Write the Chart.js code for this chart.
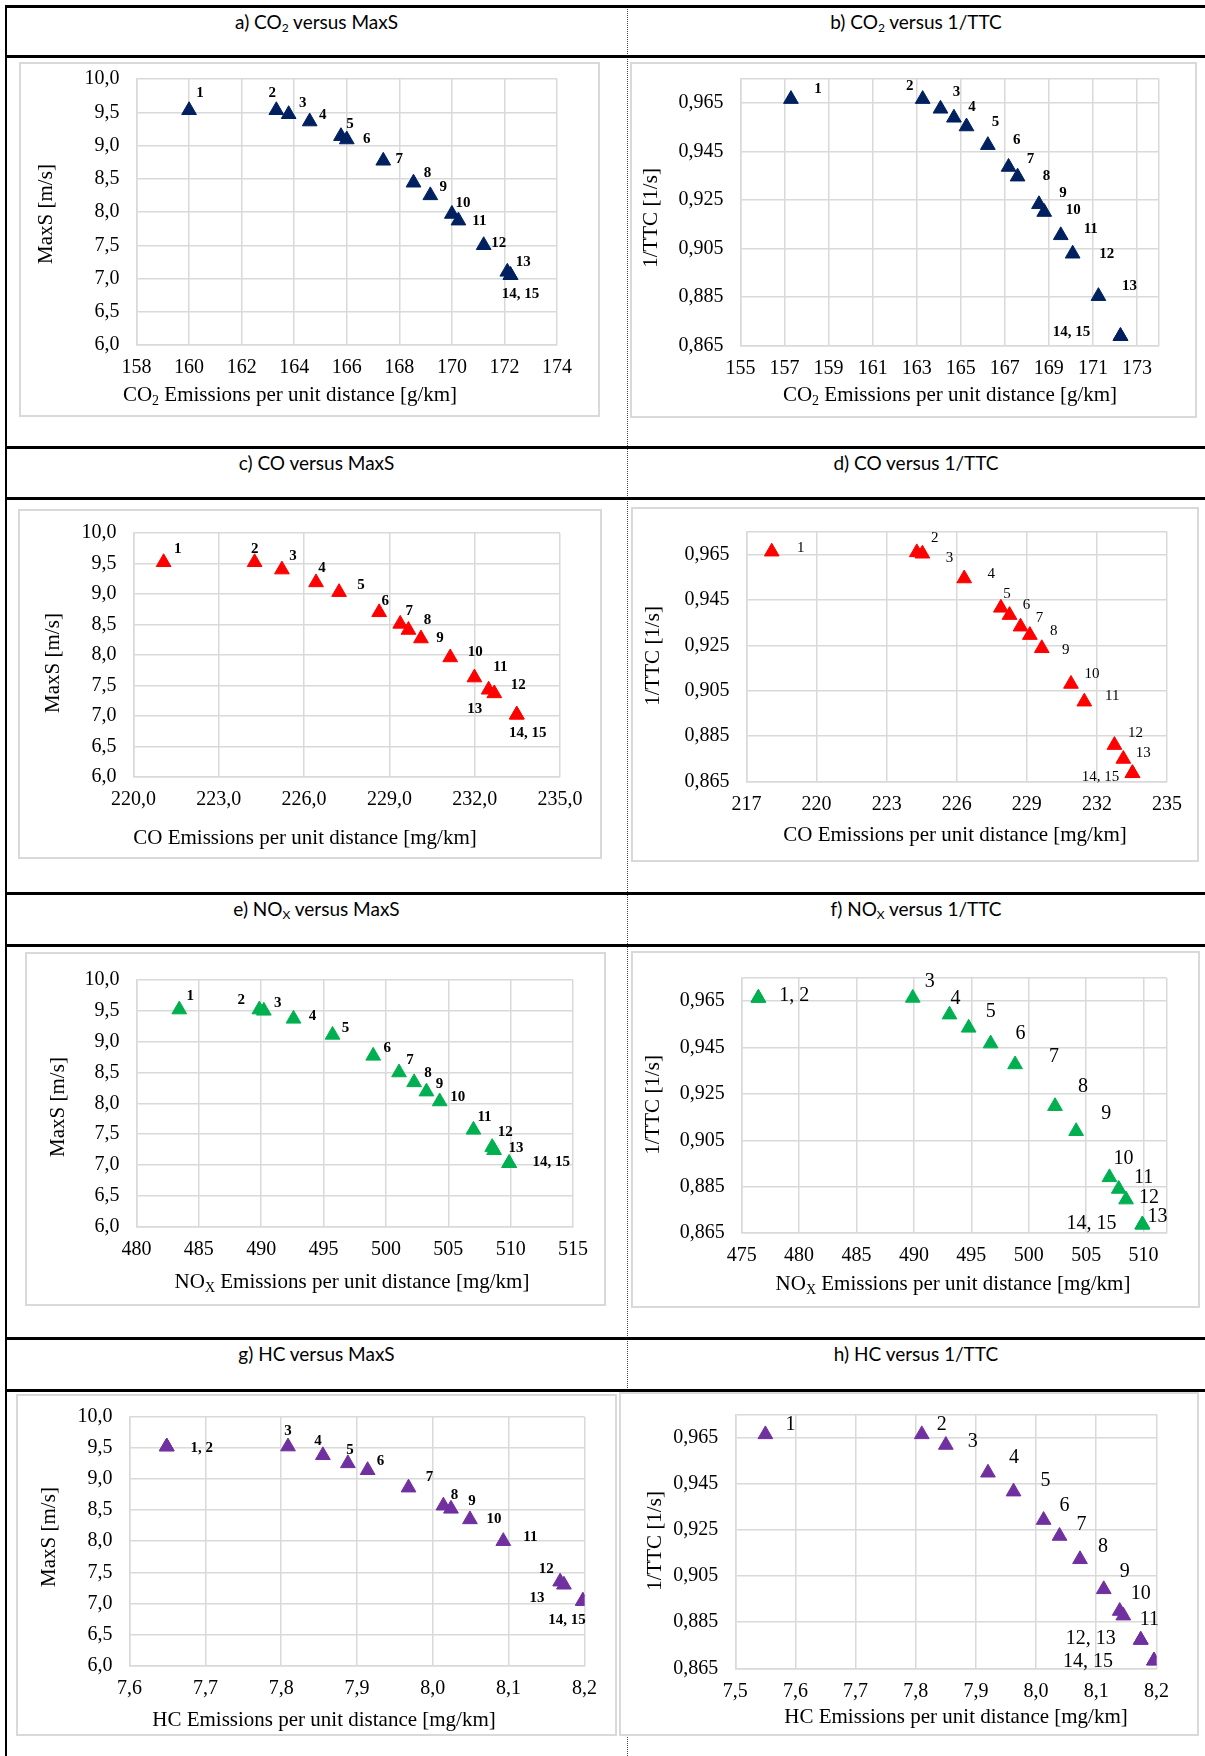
<!DOCTYPE html>
<html>
<head>
<meta charset="utf-8">
<script src="https://cdn.jsdelivr.net/npm/chart.js@4.4.0/dist/chart.umd.min.js"></script>
<style>
  body { margin: 0; background: #fff; }
  #page { position: relative; width: 1205px; height: 1756px; overflow: hidden; background: #fff; }
  .hline { position: absolute; left: 6px; right: 0; height: 3px; background: #000; }
  .vline { position: absolute; left: 5px; top: 5px; width: 2px; bottom: 0; background: #000; }
  .divider { position: absolute; left: 627px; top: 6px; bottom: 0; border-left: 1px dotted #444; }
  .hdr { position: absolute; height: 24px; line-height: 24px; text-align: center;
         font-family: Lato, "Open Sans", sans-serif; font-size: 19px; color: #000; }
  .hdr sub { font-size: 12px; vertical-align: -3px; line-height: 0; }
  canvas { position: absolute; background: #fff; }
  .frame { position: absolute; box-sizing: border-box; border: 2px solid #d9d9d9; pointer-events: none; }
</style>
</head>
<body>
<div id="page">
  <div class="divider"></div>
  <div class="vline"></div>
  <div class="hline" style="top:5px"></div>
  <div class="hline" style="top:55px"></div>
  <div class="hline" style="top:446px"></div>
  <div class="hline" style="top:497px"></div>
  <div class="hline" style="top:892px"></div>
  <div class="hline" style="top:944px"></div>
  <div class="hline" style="top:1337px"></div>
  <div class="hline" style="top:1389px"></div>

  <div class="hdr" style="left:6px;width:621px;top:10px">a) CO<sub>2</sub> versus MaxS</div>
  <div class="hdr" style="left:627px;width:578px;top:10px">b) CO<sub>2</sub> versus 1/TTC</div>
  <div class="hdr" style="left:6px;width:621px;top:451px">c) CO versus MaxS</div>
  <div class="hdr" style="left:627px;width:578px;top:451px">d) CO versus 1/TTC</div>
  <div class="hdr" style="left:6px;width:621px;top:897px">e) NO<sub>X</sub> versus MaxS</div>
  <div class="hdr" style="left:627px;width:578px;top:897px">f) NO<sub>X</sub> versus 1/TTC</div>
  <div class="hdr" style="left:6px;width:621px;top:1342px">g) HC versus MaxS</div>
  <div class="hdr" style="left:627px;width:578px;top:1342px">h) HC versus 1/TTC</div>
</div>

<script>
// ---- data: one pair of arrays per panel, points 1..15 in order ----
var aCO2  = [160.0, 163.32, 163.79, 164.59, 165.78, 166.0, 167.39, 168.54, 169.18, 170.0, 170.25, 171.21, 172.11, 172.23, 172.23];
var aMaxS = [9.53, 9.53, 9.47, 9.36, 9.14, 9.09, 8.77, 8.44, 8.25, 7.97, 7.87, 7.50, 7.10, 7.05, 7.05];

var bCO2  = [157.29, 163.27, 164.08, 164.69, 165.26, 166.23, 167.17, 167.58, 168.55, 168.79, 169.54, 170.08, 171.25, 172.25, 172.25];
var bTTC  = [0.9667, 0.9667, 0.9627, 0.9590, 0.9554, 0.9477, 0.9387, 0.9347, 0.9233, 0.9201, 0.9105, 0.9029, 0.8854, 0.8689, 0.8689];

var cCO   = [221.06, 224.26, 225.22, 226.42, 227.23, 228.64, 229.38, 229.67, 230.11, 231.14, 231.99, 232.69, 232.49, 233.48, 233.48];
var cMaxS = [9.52, 9.52, 9.40, 9.19, 9.03, 8.70, 8.51, 8.41, 8.27, 7.96, 7.63, 7.37, 7.43, 7.02, 7.02];

var dCO   = [218.08, 224.29, 224.53, 226.32, 227.89, 228.26, 228.73, 229.13, 229.64, 230.89, 231.46, 232.75, 233.13, 233.52, 233.52];
var dTTC  = [0.9662, 0.9659, 0.9653, 0.9544, 0.9415, 0.9383, 0.9332, 0.9295, 0.9237, 0.9080, 0.9002, 0.8811, 0.8750, 0.8687, 0.8687];

var eNOx  = [483.43, 489.85, 490.21, 492.59, 495.72, 498.98, 501.05, 502.26, 503.25, 504.31, 507.02, 508.52, 508.67, 509.88, 509.88];
var eMaxS = [9.52, 9.52, 9.50, 9.37, 9.11, 8.77, 8.50, 8.34, 8.19, 8.03, 7.57, 7.29, 7.24, 7.03, 7.03];

var fNOx  = [476.45, 476.45, 489.9, 493.1, 494.77, 496.68, 498.81, 502.29, 504.13, 507.03, 507.84, 508.48, 509.9, 509.9, 509.9];
var fTTC  = [0.9664, 0.9664, 0.9664, 0.9592, 0.9535, 0.9467, 0.9377, 0.9197, 0.9089, 0.8890, 0.8840, 0.8794, 0.8686, 0.8686, 0.8686];

var gHC   = [7.649, 7.649, 7.809, 7.855, 7.888, 7.914, 7.968, 8.014, 8.024, 8.049, 8.093, 8.168, 8.173, 8.198, 8.198];
var gMaxS = [9.52, 9.52, 9.52, 9.38, 9.25, 9.14, 8.86, 8.57, 8.52, 8.35, 8.00, 7.35, 7.30, 7.04, 7.04];

var hHC   = [7.55, 7.81, 7.85, 7.92, 7.9625, 8.0125, 8.039, 8.073, 8.1125, 8.139, 8.145, 8.174, 8.174, 8.196, 8.196];
var hTTC  = [0.9663, 0.9663, 0.9617, 0.9497, 0.9415, 0.9292, 0.9223, 0.9122, 0.8992, 0.8898, 0.8878, 0.8773, 0.8773, 0.8683, 0.8683];

// point labels (empty where a label is shared with the previous point)
var labels15  = ['1','2','3','4','5','6','7','8','9','10','11','12','13','14, 15',''];
var fLabels   = ['1, 2','','3','4','5','6','7','8','9','10','11','12','13','14, 15',''];
var gLabels   = ['1, 2','','3','4','5','6','7','8','9','10','11','12','13','14, 15',''];
var hLabels   = ['1','2','3','4','5','6','7','8','9','10','11','12, 13','','14, 15',''];

// tick labels
var ticksCO2a  = [158, 160, 162, 164, 166, 168, 170, 172, 174];
var ticksCO2b  = [155, 157, 159, 161, 163, 165, 167, 169, 171, 173];
var ticksCOc   = [220, 223, 226, 229, 232, 235];
var ticksCOd   = [217, 220, 223, 226, 229, 232, 235];
var ticksNOxE  = [480, 485, 490, 495, 500, 505, 510, 515];
var ticksNOxF  = [475, 480, 485, 490, 495, 500, 505, 510];
var ticksHCg   = [7.6, 7.7, 7.8, 7.9, 8.0, 8.1, 8.2];
var ticksHCh   = [7.5, 7.6, 7.7, 7.8, 7.9, 8.0, 8.1, 8.2];
var ticksMaxS  = [6.0, 6.5, 7.0, 7.5, 8.0, 8.5, 9.0, 9.5, 10.0];
var ticksTTC   = [0.865, 0.885, 0.905, 0.925, 0.945, 0.965];

// ---- drawing helpers ----
var SERIF = '"Liberation Serif", "Times New Roman", serif';

function fmt(v, dec) {
  return v.toFixed(dec).replace('.', ',');
}

function tickList(vals, max) {
  var t = vals.map(function (v) { return { value: v }; });
  if (vals[vals.length - 1] !== max) t.push({ value: max });
  return t;
}

// keep the plot area exactly where the layout padding puts it
function noScalePadding(s) {
  s.paddingTop = 0;
  s.paddingBottom = 0;
  s.paddingLeft = 0;
  s.paddingRight = 0;
}

// number labels next to each marker
var pointLabels = {
  id: 'pointLabels',
  afterDatasetsDraw: function (chart, args, opts) {
    var ctx = chart.ctx;
    var meta = chart.getDatasetMeta(0);
    ctx.save();
    ctx.font = opts.font;
    ctx.fillStyle = '#000';
    ctx.textAlign = 'center';
    ctx.textBaseline = 'middle';
    meta.data.forEach(function (pt, i) {
      var txt = opts.labels[i];
      if (!txt) return;
      var off = opts.offsets[i];
      ctx.fillText(txt, pt.x + off[0], pt.y + off[1]);
    });
    ctx.restore();
  }
};

// axis titles, x title may carry a subscript part
var axisTitles = {
  id: 'axisTitles',
  afterDraw: function (chart, args, opts) {
    var ctx = chart.ctx;
    ctx.save();
    ctx.fillStyle = '#000';
    ctx.textBaseline = 'middle';
    ctx.textAlign = 'center';
    ctx.font = '21px ' + SERIF;
    ctx.translate(opts.yPos[0], opts.yPos[1]);
    ctx.rotate(-Math.PI / 2);
    ctx.fillText(opts.yText, 0, 0);
    ctx.restore();

    ctx.save();
    ctx.fillStyle = '#000';
    ctx.textBaseline = 'middle';
    ctx.textAlign = 'left';
    var parts = opts.xParts;
    var widths = parts.map(function (p) {
      ctx.font = (p.sub ? '14px ' : '21px ') + SERIF;
      return ctx.measureText(p.t).width;
    });
    var total = widths.reduce(function (a, b) { return a + b; }, 0);
    var x = opts.xPos[0] - total / 2;
    parts.forEach(function (p, i) {
      ctx.font = (p.sub ? '14px ' : '21px ') + SERIF;
      ctx.fillText(p.t, x, opts.xPos[1] + (p.sub ? 6 : 0));
      x += widths[i];
    });
    ctx.restore();
  }
};

function makePanel(p) {
  var page = document.getElementById('page');
  var cv = document.createElement('canvas');
  var bx = p.box[0], by = p.box[1], bw = p.box[2], bh = p.box[3];
  cv.width = bw;
  cv.height = bh;
  cv.style.left = bx + 'px';
  cv.style.top = by + 'px';
  page.appendChild(cv);
  var fr = document.createElement('div');
  fr.className = 'frame';
  fr.style.left = bx + 'px';
  fr.style.top = by + 'px';
  fr.style.width = bw + 'px';
  fr.style.height = bh + 'px';
  page.appendChild(fr);

  var pts = p.x.map(function (v, i) { return { x: v, y: p.y[i] }; });
  var xMin = p.xTicks[0], yMin = p.yTicks[0];
  var tickFont = { family: SERIF, size: 20 };
  var gridStyle = { color: '#d9d9d9', lineWidth: 1.5, drawTicks: false };

  new Chart(cv.getContext('2d'), {
    type: 'scatter',
    data: {
      datasets: [{
        data: pts,
        pointStyle: 'triangle',
        pointRadius: 8.5,
        pointBackgroundColor: p.color,
        pointBorderColor: p.color,
        pointBorderWidth: 1
      }]
    },
    options: {
      responsive: false,
      devicePixelRatio: 1,
      animation: false,
      layout: {
        padding: { left: 0, top: p.plot[1] - by, right: bx + bw - p.plot[2], bottom: 0 }
      },
      scales: {
        x: {
          type: 'linear',
          min: xMin,
          max: p.xMax,
          afterBuildTicks: function (s) { s.ticks = tickList(p.xTicks, p.xMax); },
          afterFit: function (s) { s.height = by + bh - p.plot[3]; noScalePadding(s); },
          grid: gridStyle,
          border: { color: '#d9d9d9', width: 1.5 },
          ticks: {
            padding: 11, color: '#000', font: tickFont, maxRotation: 0, autoSkip: false,
            callback: function (v) { return p.xTicks.indexOf(v) >= 0 ? fmt(v, p.xDec) : ''; }
          }
        },
        y: {
          type: 'linear',
          min: yMin,
          max: p.yMax,
          afterBuildTicks: function (s) { s.ticks = tickList(p.yTicks, p.yMax); },
          afterFit: function (s) { s.width = p.plot[0] - bx; noScalePadding(s); },
          grid: gridStyle,
          border: { color: '#d9d9d9', width: 1.5 },
          ticks: {
            padding: 17, color: '#000', font: tickFont, autoSkip: false,
            callback: function (v) { return p.yTicks.indexOf(v) >= 0 ? fmt(v, p.yDec) : ''; }
          }
        }
      },
      plugins: {
        legend: { display: false },
        tooltip: { enabled: false },
        pointLabels: { labels: p.labels, offsets: p.offsets, font: p.labelFont },
        axisTitles: {
          yText: p.yTitle,
          yPos: [p.yTitlePos[0] - bx, p.yTitlePos[1] - by],
          xParts: p.xTitle,
          xPos: [p.xTitlePos[0] - bx, p.xTitlePos[1] - by]
        }
      }
    },
    plugins: [pointLabels, axisTitles]
  });
}

var co2Title = [{ t: 'CO' }, { t: '2', sub: true }, { t: ' Emissions per unit distance [g/km]' }];
var coTitle  = [{ t: 'CO Emissions per unit distance [mg/km]' }];
var noxTitle = [{ t: 'NO' }, { t: 'X', sub: true }, { t: ' Emissions per unit distance [mg/km]' }];
var hcTitle  = [{ t: 'HC Emissions per unit distance [mg/km]' }];
var boldLbl  = 'bold 15px ' + SERIF;

var panels = [
  { box: [19, 62, 581, 355], plot: [136.5, 79, 557, 345], x: aCO2, y: aMaxS, color: '#002060',
    xTicks: ticksCO2a, xMax: 174, xDec: 0, yTicks: ticksMaxS, yMax: 10, yDec: 1,
    labels: labels15, labelFont: boldLbl,
    offsets: [[11,-17],[-4,-17],[14,-11],[13,-6],[9,-12],[20,0],[16,-2],[14,-10],[13,-8],[11,-11],[21,0],[15,-2],[16,-10],[10,19],[0,0]],
    yTitle: 'MaxS [m/s]', yTitlePos: [46, 214], xTitle: co2Title, xTitlePos: [290, 395] },
  { box: [630, 62, 567, 356], plot: [740.5, 79, 1159, 345.6], x: bCO2, y: bTTC, color: '#002060',
    xTicks: ticksCO2b, xMax: 174, xDec: 0, yTicks: ticksTTC, yMax: 0.975, yDec: 3,
    labels: labels15, labelFont: boldLbl,
    offsets: [[27,-10],[-13,-13],[16,-17],[18,-11],[29,-4],[29,-5],[22,-8],[29,-1],[24,-11],[29,-2],[30,-6],[34,0],[31,-10],[-49,-4],[0,0]],
    yTitle: '1/TTC [1/s]', yTitlePos: [651, 218], xTitle: co2Title, xTitlePos: [950, 395] },
  { box: [18, 509, 584, 350], plot: [133.5, 533, 560, 777], x: cCO, y: cMaxS, color: '#ff0000',
    xTicks: ticksCOc, xMax: 235, xDec: 1, yTicks: ticksMaxS, yMax: 10, yDec: 1,
    labels: labels15, labelFont: boldLbl,
    offsets: [[14,-13],[0,-13],[11,-13],[6,-14],[22,-7],[6,-11],[9,-13],[19,-10],[19,0],[25,-5],[26,-10],[24,-8],[-14,19],[11,18],[0,0]],
    yTitle: 'MaxS [m/s]', yTitlePos: [53, 663], xTitle: coTitle, xTitlePos: [305, 838] },
  { box: [631, 507, 568, 355], plot: [746.5, 531.7, 1167, 781.7], x: dCO, y: dTTC, color: '#ff0000',
    xTicks: ticksCOd, xMax: 235, xDec: 0, yTicks: ticksTTC, yMax: 0.975, yDec: 3,
    labels: labels15, labelFont: '15px ' + SERIF,
    offsets: [[29,-4],[18,-14],[27,4],[27,-4],[6,-14],[17,-10],[19,-9],[24,-4],[24,2],[21,-10],[28,-6],[21,-12],[20,-6],[-32,4],[0,0]],
    yTitle: '1/TTC [1/s]', yTitlePos: [653, 656], xTitle: coTitle, xTitlePos: [955, 835] },
  { box: [25, 952, 581, 354], plot: [136.5, 980, 573, 1226.7], x: eNOx, y: eMaxS, color: '#00b050',
    xTicks: ticksNOxE, xMax: 515, xDec: 0, yTicks: ticksMaxS, yMax: 10, yDec: 1,
    labels: labels15, labelFont: boldLbl,
    offsets: [[11,-13],[-18,-9],[14,-8],[19,-3],[13,-7],[14,-8],[11,-12],[14,-9],[13,-8],[18,-4],[11,-13],[13,-15],[22,-2],[42,-1],[0,0]],
    yTitle: 'MaxS [m/s]', yTitlePos: [58, 1107], xTitle: noxTitle, xTitlePos: [352, 1282] },
  { box: [631, 951, 569, 357], plot: [741.7, 978, 1166.5, 1233], x: fNOx, y: fTTC, color: '#00b050',
    xTicks: ticksNOxF, xMax: 512, xDec: 0, yTicks: ticksTTC, yMax: 0.975, yDec: 3,
    labels: fLabels, labelFont: '20px ' + SERIF,
    offsets: [[36,-2],[0,0],[17,-16],[6,-16],[22,-16],[30,-10],[39,-8],[28,-19],[30,-17],[14,-19],[25,-11],[23,-2],[15,-8],[-51,-1],[0,0]],
    yTitle: '1/TTC [1/s]', yTitlePos: [653, 1105], xTitle: noxTitle, xTitlePos: [953, 1284] },
  { box: [16, 1394, 601, 342], plot: [129.6, 1416.7, 584.4, 1665.7], x: gHC, y: gMaxS, color: '#7030a0',
    xTicks: ticksHCg, xMax: 8.2, xDec: 1, yTicks: ticksMaxS, yMax: 10, yDec: 1,
    labels: gLabels, labelFont: boldLbl,
    offsets: [[35,2],[0,0],[0,-15],[-5,-14],[2,-13],[13,-9],[21,-11],[11,-11],[21,-8],[24,0],[27,-4],[-14,-13],[-27,13],[-16,19],[0,0]],
    yTitle: 'MaxS [m/s]', yTitlePos: [49, 1537], xTitle: hcTitle, xTitlePos: [324, 1720] },
  { box: [619, 1392, 580, 344], plot: [735.3, 1414.3, 1156.4, 1668.3], x: hHC, y: hTTC, color: '#7030a0',
    xTicks: ticksHCh, xMax: 8.2, xDec: 1, yTicks: ticksTTC, yMax: 0.975, yDec: 3,
    labels: hLabels, labelFont: '20px ' + SERIF,
    offsets: [[25,-10],[20,-10],[27,-3],[26,-15],[32,-11],[21,-14],[22,-11],[23,-13],[21,-18],[21,-17],[26,4],[-50,-1],[0,0],[-66,1],[0,0]],
    yTitle: '1/TTC [1/s]', yTitlePos: [655, 1541], xTitle: hcTitle, xTitlePos: [956, 1717] }
];

document.addEventListener('DOMContentLoaded', function () {
  panels.forEach(makePanel);
});
</script>
</body>
</html>
